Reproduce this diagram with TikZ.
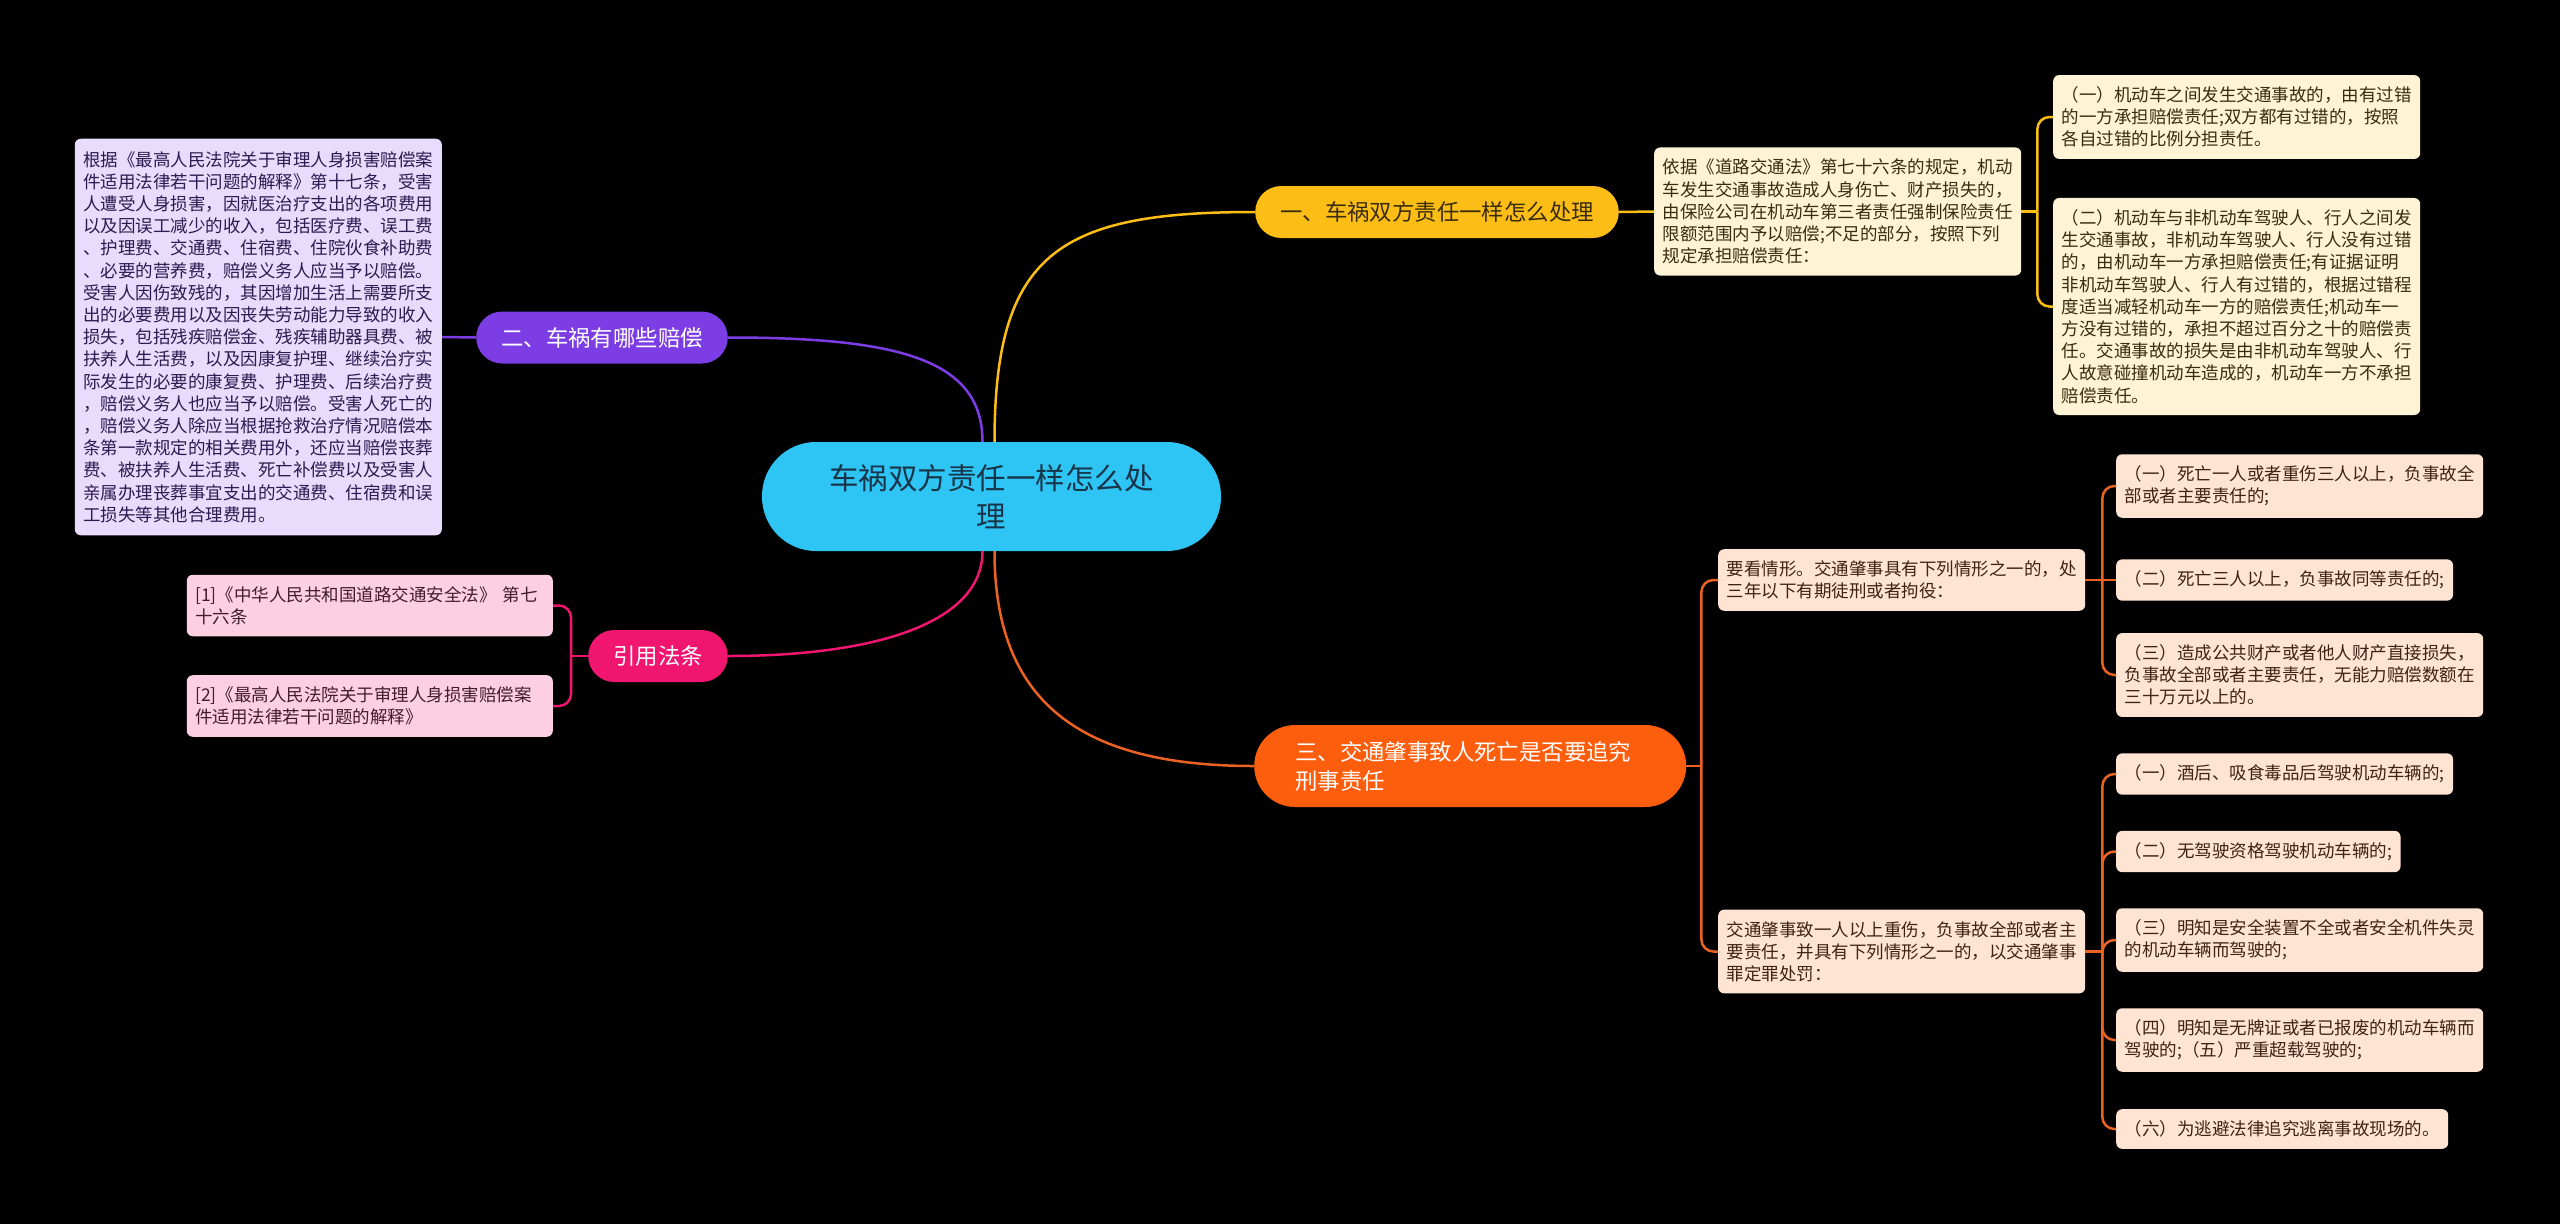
\documentclass[tikz,border=0pt]{standalone}
\usepackage{fontspec}
\setmainfont{Noto Sans CJK SC}

\definecolor{rootblue}{RGB}{46,196,243}
\definecolor{rootink}{RGB}{24,52,72}
\definecolor{ylwbr}{RGB}{252,190,22}
\definecolor{ylwleaf}{RGB}{254,243,212}
\definecolor{ylwink}{RGB}{58,44,14}
\definecolor{purpbr}{RGB}{124,62,228}
\definecolor{purpleaf}{RGB}{231,220,252}
\definecolor{purpink}{RGB}{44,26,80}
\definecolor{pinkbr}{RGB}{240,22,112}
\definecolor{pinkleaf}{RGB}{252,208,226}
\definecolor{pinkink}{RGB}{64,28,46}
\definecolor{orgbr}{RGB}{253,94,14}
\definecolor{orgline}{RGB}{236,98,34}
\definecolor{orgleaf}{RGB}{255,227,211}
\definecolor{orgink}{RGB}{62,34,20}

\newcommand\leaffont{\fontsize{17.5}{22.2}\selectfont}
\newcommand\brfont{\fontsize{22.4}{29}\selectfont}
\newcommand\rootfont{\fontsize{29.5}{38}\selectfont}

\begin{document}
\begin{tikzpicture}[x=1pt, y=-1pt,
  leaf/.style={rounded corners=6pt, inner xsep=8.5pt, inner ysep=11.5pt, align=left, font=\leaffont},
  branch/.style={rounded corners=26pt, minimum height=52pt, inner xsep=25pt, inner ysep=0pt, font=\brfont},
  link/.style={line width=2.5pt}]

  % canvas
  \fill[black] (0,0) rectangle (2560,1224);
  \useasboundingbox (0,0) rectangle (2560,1224);

  % central topic
  \node[fill=rootblue, text=rootink, rounded corners=54pt, minimum width=459pt, minimum height=109pt,
        align=center, font=\rootfont] (root) at (991.5,496.5) {车祸双方责任一样怎么处\\理};

  % main branches
  \node[branch, fill=ylwbr, text=ylwink, anchor=west] (b1) at (1255,212) {一、车祸双方责任一样怎么处理};
  \node[branch, fill=purpbr, text=white, anchor=east] (b2) at (728,337.5) {二、车祸有哪些赔偿};
  \node[branch, fill=orgbr, text=white, anchor=west, align=left, minimum height=82pt,
        rounded corners=41pt, inner xsep=41pt, text width=350pt] (b3) at (1254,766) {三、交通肇事致人死亡是否要追究\\刑事责任};
  \node[branch, fill=pinkbr, text=white, anchor=east] (b4) at (728,656) {引用法条};

  % branch one: liability
  \node[leaf, fill=ylwleaf, text=ylwink, anchor=west] (l1a) at (1654,211.5)
    {依据《道路交通法》第七十六条的规定，机动\\车发生交通事故造成人身伤亡、财产损失的，\\由保险公司在机动车第三者责任强制保险责任\\限额范围内予以赔偿;不足的部分，按照下列\\规定承担赔偿责任：};
  \node[leaf, fill=ylwleaf, text=ylwink, anchor=west] (l1b) at (2053,117)
    {（一）机动车之间发生交通事故的，由有过错\\的一方承担赔偿责任;双方都有过错的，按照\\各自过错的比例分担责任。};
  \node[leaf, fill=ylwleaf, text=ylwink, anchor=west] (l1c) at (2053,306.5)
    {（二）机动车与非机动车驾驶人、行人之间发\\生交通事故，非机动车驾驶人、行人没有过错\\的，由机动车一方承担赔偿责任;有证据证明\\非机动车驾驶人、行人有过错的，根据过错程\\度适当减轻机动车一方的赔偿责任;机动车一\\方没有过错的，承担不超过百分之十的赔偿责\\任。交通事故的损失是由非机动车驾驶人、行\\人故意碰撞机动车造成的，机动车一方不承担\\赔偿责任。};

  % branch two: compensation
  \node[leaf, fill=purpleaf, text=purpink, anchor=east, inner ysep=12.5pt] (l2a) at (442,337)
    {根据《最高人民法院关于审理人身损害赔偿案\\件适用法律若干问题的解释》第十七条，受害\\人遭受人身损害，因就医治疗支出的各项费用\\以及因误工减少的收入，包括医疗费、误工费\\、护理费、交通费、住宿费、住院伙食补助费\\、必要的营养费，赔偿义务人应当予以赔偿。\\受害人因伤致残的，其因增加生活上需要所支\\出的必要费用以及因丧失劳动能力导致的收入\\损失，包括残疾赔偿金、残疾辅助器具费、被\\扶养人生活费，以及因康复护理、继续治疗实\\际发生的必要的康复费、护理费、后续治疗费\\，赔偿义务人也应当予以赔偿。受害人死亡的\\，赔偿义务人除应当根据抢救治疗情况赔偿本\\条第一款规定的相关费用外，还应当赔偿丧葬\\费、被扶养人生活费、死亡补偿费以及受害人\\亲属办理丧葬事宜支出的交通费、住宿费和误\\工损失等其他合理费用。};

  % branch four: cited law
  \node[leaf, fill=pinkleaf, text=pinkink, anchor=east, text width=349pt] (l4a) at (553,605.5)
    {[1]《中华人民共和国道路交通安全法》 第七\\十六条};
  \node[leaf, fill=pinkleaf, text=pinkink, anchor=east, text width=349pt] (l4b) at (553,706)
    {[2]《最高人民法院关于审理人身损害赔偿案\\件适用法律若干问题的解释》};

  % branch three: criminal liability
  \node[leaf, fill=orgleaf, text=orgink, anchor=west] (l3a) at (1718,580)
    {要看情形。交通肇事具有下列情形之一的，处\\三年以下有期徒刑或者拘役：};
  \node[leaf, fill=orgleaf, text=orgink, anchor=west] (l3b) at (1718,951.5)
    {交通肇事致一人以上重伤，负事故全部或者主\\要责任，并具有下列情形之一的，以交通肇事\\罪定罪处罚：};
  \node[leaf, fill=orgleaf, text=orgink, anchor=west] (l3a1) at (2116,486)
    {（一）死亡一人或者重伤三人以上，负事故全\\部或者主要责任的;};
  \node[leaf, fill=orgleaf, text=orgink, anchor=west] (l3a2) at (2116,580)
    {（二）死亡三人以上，负事故同等责任的;};
  \node[leaf, fill=orgleaf, text=orgink, anchor=west] (l3a3) at (2116,675)
    {（三）造成公共财产或者他人财产直接损失，\\负事故全部或者主要责任，无能力赔偿数额在\\三十万元以上的。};
  \node[leaf, fill=orgleaf, text=orgink, anchor=west] (l3b1) at (2116,774)
    {（一）酒后、吸食毒品后驾驶机动车辆的;};
  \node[leaf, fill=orgleaf, text=orgink, anchor=west] (l3b2) at (2116,851.5)
    {（二）无驾驶资格驾驶机动车辆的;};
  \node[leaf, fill=orgleaf, text=orgink, anchor=west] (l3b3) at (2116,940)
    {（三）明知是安全装置不全或者安全机件失灵\\的机动车辆而驾驶的;};
  \node[leaf, fill=orgleaf, text=orgink, anchor=west] (l3b4) at (2116,1040)
    {（四）明知是无牌证或者已报废的机动车辆而\\驾驶的;（五）严重超载驾驶的;};
  \node[leaf, fill=orgleaf, text=orgink, anchor=west] (l3b5) at (2116,1129)
    {（六）为逃避法律追究逃离事故现场的。};

  % curves out of the central topic
  \draw[link, ylwbr] ([xshift=3pt]root.north) .. controls +(0,-190) and +(-195,0) .. (b1.west);
  \draw[link, purpbr] ([xshift=-9pt]root.north) .. controls +(0,-82) and +(172,0) .. (b2.east);
  \draw[link, pinkbr] ([xshift=-9pt]root.south) .. controls +(0,70) and +(152,0) .. (b4.east);
  \draw[link, orgline] ([xshift=3pt]root.south) .. controls +(0,150) and +(-175,0) .. (b3.west);

  % brackets
  \draw[link, ylwbr] (b1.east) -- (l1a.west);
  \draw[link, ylwbr] (l1a.east) -- ++(16,0) coordinate (j1);
  \foreach \c in {l1b,l1c}
    \draw[link, ylwbr, rounded corners=12pt] (j1) |- (\c.west);

  \draw[link, purpbr] (b2.west) -- (l2a.east);

  \draw[link, pinkbr] (b4.west) -- ++(-17,0) coordinate (j4);
  \foreach \c in {l4a,l4b}
    \draw[link, pinkbr, rounded corners=12pt] (j4) |- (\c.east);

  \draw[link, orgline] (b3.east) -- ++(15,0) coordinate (j3);
  \foreach \c in {l3a,l3b}
    \draw[link, orgline, rounded corners=12pt] (j3) |- (\c.west);
  \draw[link, orgline] (l3a.east) -- (l3a2.west);
  \coordinate (j3a) at ([xshift=17pt]l3a.east);
  \foreach \c in {l3a1,l3a3}
    \draw[link, orgline, rounded corners=12pt] (j3a) |- (\c.west);
  \draw[link, orgline] (l3b.east) -- ++(17,0) coordinate (j3b);
  \foreach \c in {l3b1,l3b2,l3b3,l3b4,l3b5}
    \draw[link, orgline, rounded corners=12pt] (j3b) |- (\c.west);

\end{tikzpicture}
\end{document}
